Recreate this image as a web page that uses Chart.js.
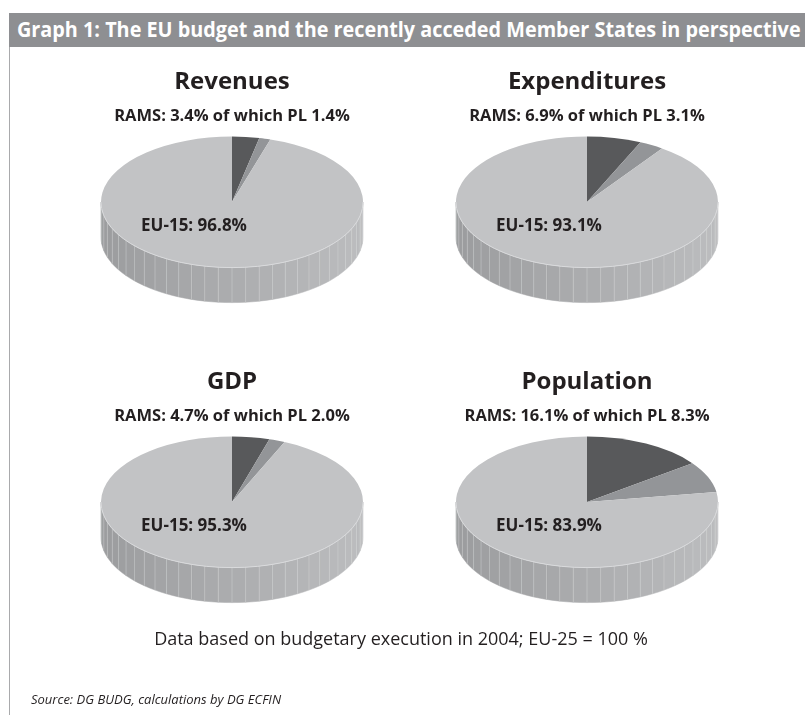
<!DOCTYPE html>
<html>
<head>
<meta charset="utf-8">
<script src="https://cdn.jsdelivr.net/npm/chart.js@4.4.1/dist/chart.umd.min.js"></script>
<style>
body { margin: 0; width: 805px; height: 715px; background: #fff; position: relative; overflow: hidden;
       font-family: "Open Sans", sans-serif; color: #231f20; }
#head { position: absolute; left: 9px; top: 13px; width: 796px; height: 34px; background: #8e8f92; }
#head span { position: absolute; left: 8px; top: 2px; white-space: nowrap; color: #fff; font-weight: bold;
             font-size: 21px; transform-origin: 0 0; }
#frame { position: absolute; left: 9px; top: 47px; width: 1px; height: 668px; background: #a9aaac; }
.pie { position: absolute; width: 300px; height: 345px; }
#note { position: absolute; left: 0; top: 626px; width: 802px; text-align: center; font-size: 18px; }
#src { position: absolute; left: 31px; top: 690px; font-size: 13px; font-style: italic; white-space: nowrap; }
</style>
</head>
<body>
<div id="head"><span id="headText">Graph 1: The EU budget and the recently acceded Member States in perspective</span></div>
<div id="frame"></div>
<div class="pie" style="left:82px;top:60px"><canvas id="pie0"></canvas></div>
<div class="pie" style="left:437px;top:60px"><canvas id="pie1"></canvas></div>
<div class="pie" style="left:82px;top:360px"><canvas id="pie2"></canvas></div>
<div class="pie" style="left:437px;top:360px"><canvas id="pie3"></canvas></div>
<div id="note">Data based on budgetary execution in 2004; EU-25 = 100 %</div>
<div id="src">Source: DG BUDG, calculations by DG ECFIN</div>
<script>
// panel names and shares (% of EU-25)
var panels = ['Revenues', 'Expenditures', 'GDP', 'Population'];
var ramsShare = [3.4, 6.9, 4.7, 16.1];
var plShare = [1.4, 3.1, 2.0, 8.3];
var eu15Share = [96.8, 93.1, 95.3, 83.9];

var sliceColors = ['#58595b', '#939598', '#c2c3c5'];
var SQUASH = 0.5;
var DEPTH = 35;
var FONT = '"Open Sans", sans-serif';

// squeeze the head line into the band
var head = document.getElementById('headText');
head.style.transform = 'scaleX(' + (784 / head.offsetWidth) + ')';

// fake 3d: flatten the pie and put a wall under its front half
var pie3d = {
    id: 'pie3d',
    beforeDatasetsDraw: function(chart) {
        var ctx = chart.ctx;
        var arcs = chart.getDatasetMeta(0).data;
        var cx = arcs[0].x, cy = arcs[0].y, r = arcs[0].outerRadius;
        var ry = r * SQUASH;
        var ty = chart.chartArea.top + ry;
        chart.$top = ty;

        var step = Math.PI / 30;
        ctx.save();
        arcs.forEach(function(arc) {
            var a = Math.max(arc.startAngle, 0);
            var b = Math.min(arc.endAngle, Math.PI);
            for (var t = a; t < b - 1e-6; t += step) {
                var t2 = Math.min(t + step, b);
                var mid = (t + t2) / 2;
                var g = Math.round(155 + 33 * (1 + Math.cos(mid)) / 2);
                ctx.beginPath();
                ctx.ellipse(cx, ty, r, ry, 0, t, t2);
                ctx.ellipse(cx, ty + DEPTH, r, ry, 0, t2, t, true);
                ctx.closePath();
                ctx.fillStyle = 'rgb(' + g + ',' + (g + 1) + ',' + (g + 3) + ')';
                ctx.fill();
                ctx.strokeStyle = ctx.fillStyle;
                ctx.lineWidth = 0.5;
                ctx.stroke();
            }
            // faint seams between the facets
            for (var s = a + step; s < b - 1e-6; s += step) {
                ctx.beginPath();
                ctx.moveTo(cx + r * Math.cos(s), ty + ry * Math.sin(s));
                ctx.lineTo(cx + r * Math.cos(s), ty + ry * Math.sin(s) + DEPTH);
                ctx.strokeStyle = 'rgba(225,226,228,0.45)';
                ctx.lineWidth = 0.8;
                ctx.stroke();
            }
        });
        ctx.restore();

        ctx.save();
        ctx.translate(0, ty);
        ctx.scale(1, SQUASH);
        ctx.translate(0, -cy);
    },
    afterDatasetsDraw: function(chart, args, opts) {
        var ctx = chart.ctx;
        ctx.restore();
        var arc = chart.getDatasetMeta(0).data[0];
        var r = arc.outerRadius, ty = chart.$top;
        // light rim on the front edge
        ctx.save();
        ctx.beginPath();
        ctx.ellipse(arc.x, ty, r, r * SQUASH, 0, 0, Math.PI);
        ctx.strokeStyle = '#d9dadc';
        ctx.lineWidth = 1;
        ctx.stroke();
        ctx.fillStyle = '#231f20';
        ctx.font = 'bold 17px ' + FONT;
        ctx.textAlign = 'center';
        ctx.textBaseline = 'middle';
        ctx.fillText(opts.label, arc.x - 38, ty + 24);
        ctx.restore();
    }
};

for (var i = 0; i < panels.length; i++) {
    new Chart(document.getElementById('pie' + i), {
        type: 'pie',
        data: {
            labels: ['RAMS', 'PL', 'EU-15'],
            datasets: [{
                data: [ramsShare[i], plShare[i], eu15Share[i]],
                backgroundColor: sliceColors,
                borderWidth: 0,
                clip: false
            }]
        },
        options: {
            responsive: true,
            maintainAspectRatio: false,
            animation: false,
            events: [],
            layout: { padding: { left: 19, right: 19, top: 0, bottom: 0 } },
            plugins: {
                legend: { display: false },
                tooltip: { enabled: false },
                title: {
                    display: true,
                    text: panels[i],
                    color: '#231f20',
                    font: { family: FONT, size: 24, weight: 'bold', lineHeight: 1.2 },
                    padding: { top: 8, bottom: 6 }
                },
                subtitle: {
                    display: true,
                    text: 'RAMS: ' + ramsShare[i].toFixed(1) + '% of which PL ' + plShare[i].toFixed(1) + '%',
                    color: '#231f20',
                    font: { family: FONT, size: 16.5, weight: 'bold', lineHeight: 1.2 },
                    padding: { top: 4, bottom: 10 }
                },
                pie3d: { label: 'EU-15: ' + eu15Share[i].toFixed(1) + '%' }
            }
        },
        plugins: [pie3d]
    });
}
</script>
</body>
</html>
